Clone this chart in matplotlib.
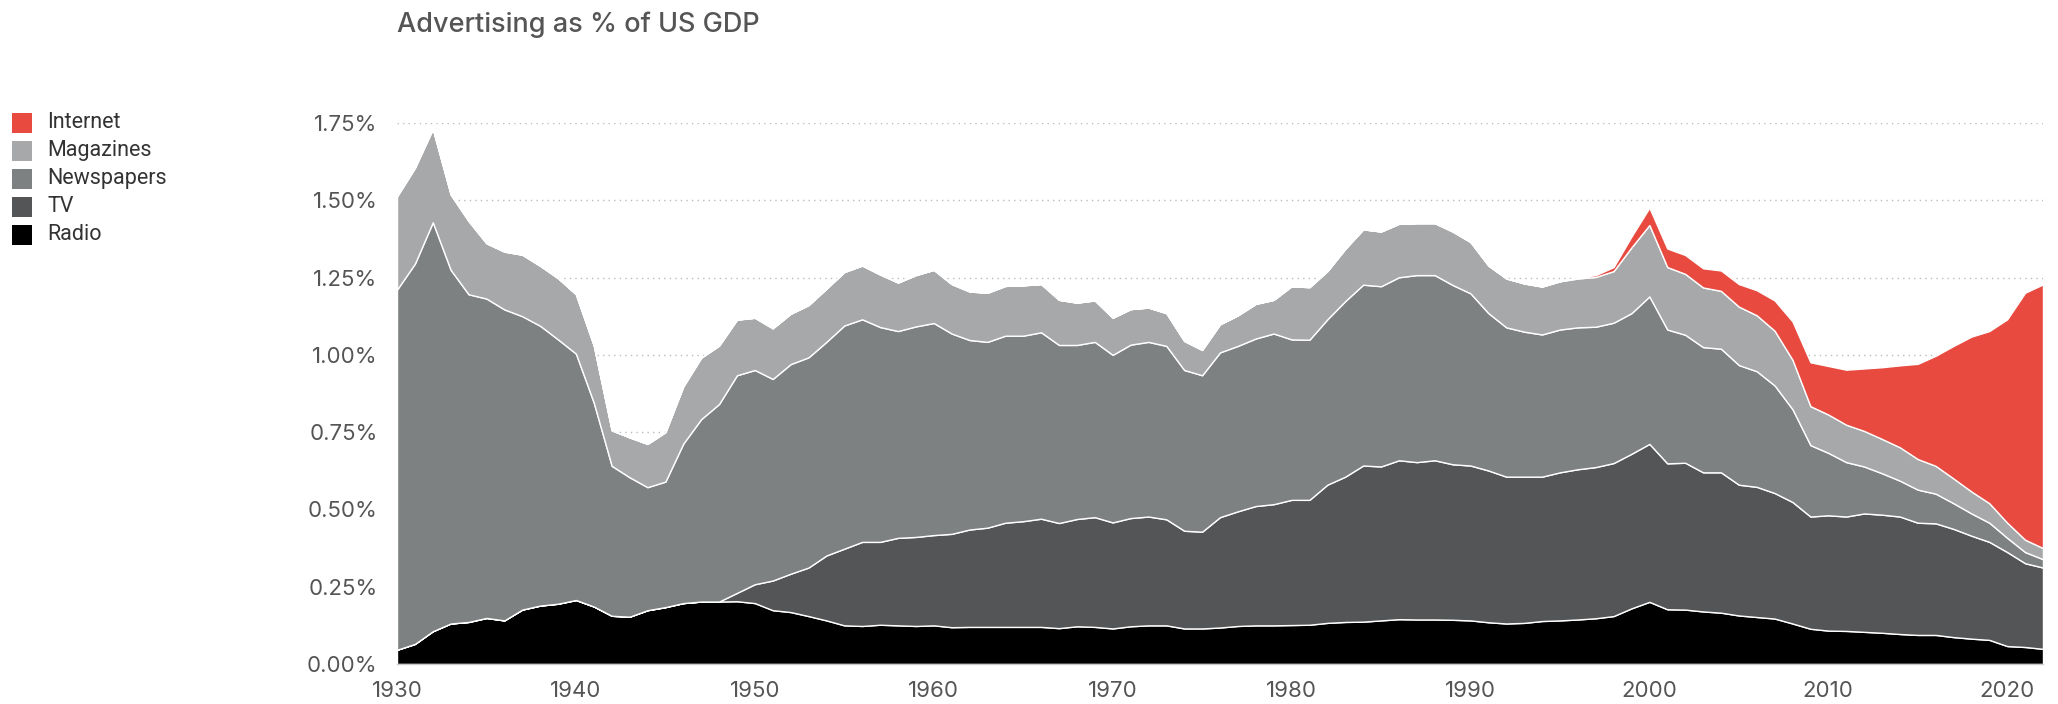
import numpy as np
import matplotlib
matplotlib.use("Agg")
import matplotlib.pyplot as plt
from matplotlib.patches import Rectangle

plt.rcParams['font.family'] = ['Inter', 'DejaVu Sans']

years = list(range(1930, 2023))

radio = [0.046, 0.065, 0.106, 0.131, 0.136, 0.149, 0.141, 0.176, 0.189, 0.195,
         0.207, 0.186, 0.156, 0.153, 0.174, 0.184, 0.197, 0.202, 0.202, 0.203,
         0.197, 0.174, 0.168, 0.155, 0.141, 0.125, 0.123, 0.127, 0.125, 0.123,
         0.125, 0.119, 0.120, 0.120, 0.120, 0.120, 0.120, 0.116, 0.122, 0.120,
         0.115, 0.122, 0.125, 0.125, 0.115, 0.115, 0.118, 0.123, 0.125, 0.125,
         0.126, 0.127, 0.133, 0.136, 0.137, 0.141, 0.145, 0.144, 0.144, 0.143,
         0.141, 0.135, 0.131, 0.133, 0.139, 0.141, 0.144, 0.148, 0.155, 0.180,
         0.201, 0.177, 0.176, 0.170, 0.166, 0.157, 0.152, 0.147, 0.131, 0.114,
         0.108, 0.107, 0.104, 0.101, 0.097, 0.094, 0.094, 0.087, 0.082, 0.078,
         0.058, 0.055, 0.049]

tv = [0.0, 0.0, 0.0, 0.0, 0.0, 0.0, 0.0, 0.0, 0.0, 0.0,
      0.0, 0.0, 0.0, 0.0, 0.0, 0.0, 0.0, 0.0, 0.0, 0.027,
      0.061, 0.096, 0.124, 0.157, 0.210, 0.248, 0.272, 0.268, 0.283, 0.288,
      0.292, 0.302, 0.315, 0.321, 0.337, 0.342, 0.350, 0.340, 0.347, 0.355,
      0.343, 0.350, 0.352, 0.343, 0.316, 0.313, 0.357, 0.371, 0.386, 0.392,
      0.405, 0.404, 0.447, 0.470, 0.505, 0.498, 0.514, 0.509, 0.515, 0.503,
      0.501, 0.491, 0.475, 0.473, 0.467, 0.479, 0.486, 0.489, 0.495, 0.500,
      0.511, 0.472, 0.475, 0.450, 0.454, 0.423, 0.421, 0.406, 0.393, 0.363,
      0.373, 0.370, 0.383, 0.382, 0.380, 0.363, 0.361, 0.350, 0.333, 0.317,
      0.304, 0.271, 0.263]

newspapers = [1.165, 1.230, 1.323, 1.144, 1.060, 1.033, 1.006, 0.949, 0.905, 0.855,
              0.797, 0.659, 0.485, 0.451, 0.398, 0.406, 0.516, 0.590, 0.639, 0.704,
              0.693, 0.652, 0.678, 0.680, 0.691, 0.722, 0.720, 0.695, 0.669, 0.681,
              0.686, 0.648, 0.613, 0.601, 0.605, 0.600, 0.603, 0.576, 0.563, 0.567,
              0.542, 0.561, 0.565, 0.561, 0.520, 0.506, 0.533, 0.535, 0.542, 0.552,
              0.519, 0.518, 0.535, 0.568, 0.585, 0.583, 0.592, 0.605, 0.599, 0.580,
              0.557, 0.509, 0.483, 0.469, 0.460, 0.462, 0.459, 0.454, 0.454, 0.455,
              0.477, 0.433, 0.414, 0.405, 0.400, 0.387, 0.374, 0.348, 0.300, 0.231,
              0.202, 0.176, 0.152, 0.134, 0.116, 0.107, 0.096, 0.083, 0.072, 0.062,
              0.046, 0.036, 0.027]

magazines = [0.302, 0.310, 0.302, 0.244, 0.237, 0.179, 0.187, 0.199, 0.194, 0.198,
             0.192, 0.185, 0.115, 0.129, 0.140, 0.160, 0.185, 0.199, 0.189, 0.180,
             0.169, 0.164, 0.163, 0.169, 0.172, 0.173, 0.174, 0.170, 0.157, 0.166,
             0.172, 0.160, 0.157, 0.159, 0.161, 0.163, 0.156, 0.146, 0.137, 0.134,
             0.120, 0.115, 0.111, 0.106, 0.094, 0.082, 0.091, 0.099, 0.112, 0.109,
             0.172, 0.170, 0.156, 0.169, 0.179, 0.177, 0.173, 0.168, 0.168, 0.173,
             0.166, 0.154, 0.158, 0.156, 0.155, 0.156, 0.158, 0.161, 0.167, 0.213,
             0.231, 0.202, 0.197, 0.193, 0.187, 0.189, 0.181, 0.177, 0.160, 0.126,
             0.124, 0.121, 0.115, 0.111, 0.108, 0.099, 0.090, 0.080, 0.071, 0.063,
             0.049, 0.040, 0.036]

internet = [0.0] * 66 + [0.003, 0.006, 0.013, 0.035,
            0.056, 0.060, 0.061, 0.062, 0.066, 0.073, 0.081, 0.098, 0.124, 0.142,
            0.157, 0.178, 0.202, 0.232, 0.265, 0.308, 0.356, 0.429, 0.501, 0.557,
            0.658, 0.799, 0.853]

labels = ["Radio", "TV", "Newspapers", "Magazines", "Internet"]
colors = ["#000000", "#545557", "#7e8181", "#a7a8a9", "#e84a40"]

fig = plt.figure(figsize=(20.58, 7.04), dpi=100)
ax = fig.add_axes([397 / 2058, 40 / 704, (2043 - 397) / 2058, (664 - 123) / 704])

series = [radio, tv, newspapers, magazines, internet]
ax.stackplot(years, *series, colors=colors, edgecolor="white", linewidth=1.0,
             zorder=2)

ax.set_xlim(1930, 2022)
ax.set_ylim(0, 1.75)
yticks = [0, 0.25, 0.5, 0.75, 1.0, 1.25, 1.5, 1.75]
ax.set_yticks(yticks)
ax.set_yticklabels([f"{v:.2f}%" for v in yticks])
ax.set_xticks(list(range(1930, 2030, 10)))
ax.tick_params(axis="both", length=0, labelsize=16, colors="#555555")
ax.tick_params(axis="y", pad=14)
ax.tick_params(axis="x", pad=12)
ax.yaxis.grid(True, linestyle=(0, (1, 3)), color="#bbbbbb", linewidth=1, zorder=0)
ax.set_axisbelow(True)
for s in ["top", "right", "left"]:
    ax.spines[s].set_visible(False)
ax.spines["bottom"].set_color("#cccccc")
ax.spines["bottom"].set_linewidth(1)

fig.text(397 / 2058, 1 - 25 / 704, "Advertising as % of US GDP", fontsize=19.5,
         fontweight="medium", color="#555555", ha="left", va="center")

legend_order = [4, 3, 2, 1, 0]
for i, idx in enumerate(legend_order):
    yc = 123 + 27.9 * i
    fig.add_artist(Rectangle((12 / 2058, 1 - (yc + 10) / 704), 20 / 2058, 20 / 704,
                             transform=fig.transFigure, color=colors[idx], lw=0))
    fig.text(47 / 2058, 1 - yc / 704, labels[idx], fontsize=15.5, color="#333333",
             family=["Roboto", "DejaVu Sans"], ha="left", va="center")

fig.savefig("out.png", dpi=100)
